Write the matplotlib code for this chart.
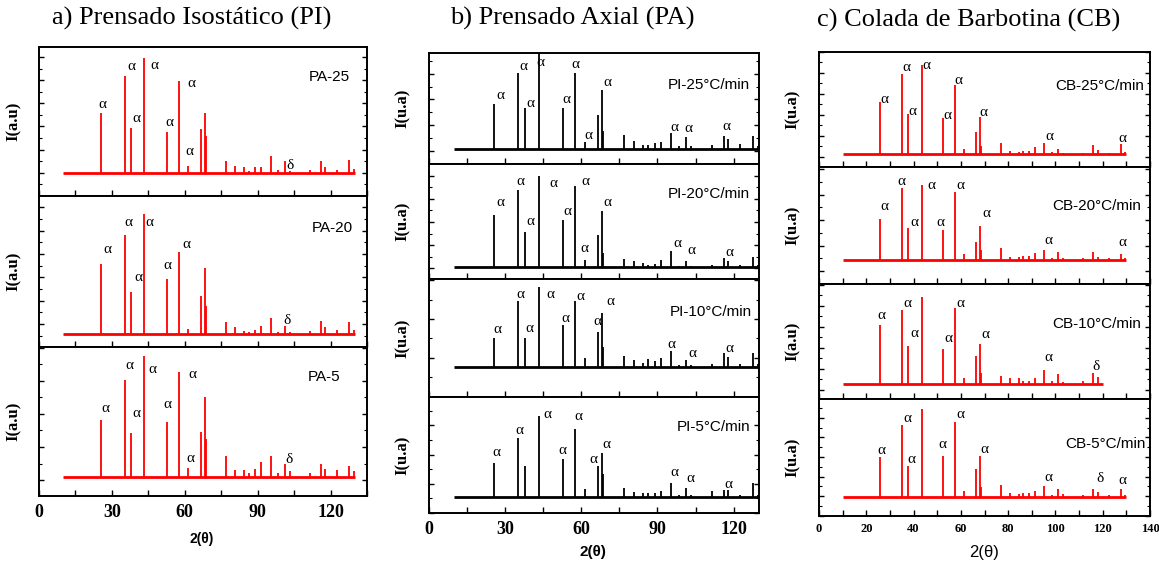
import numpy as np
import matplotlib.pyplot as plt
from matplotlib.ticker import MultipleLocator

plt.rcParams['font.family'] = ['Liberation Serif', 'DejaVu Serif']

# 2-theta positions of the reflections (shared by all patterns)
peak_pos = [25.6, 35.2, 37.8, 43.4, 52.6, 57.5, 61.3, 66.5, 68.2, 68.6, 76.9, 80.7, 84.4,
            86.4, 89.0, 91.2, 95.3, 98.4, 101.1, 103.4, 111.6, 116.1, 117.9, 122.6, 127.7, 129.5]

# peak heights above background (a.u.), same order as peak_pos
PA25 = [2570, 4170, 1930, 4970, 1760, 3960, 310, 1900, 2570, 1570, 510, 290, 260,
        90, 230, 260, 740, 110, 490, 60, 110, 530, 230, 140, 570, 170]
PA20 = [2960, 4210, 1770, 5100, 2330, 3490, 190, 1630, 2800, 1170, 510, 270, 130,
        70, 170, 330, 670, 70, 310, 70, 110, 540, 270, 140, 500, 140]
PA5 = [1750, 2950, 1350, 3670, 1680, 3190, 300, 1360, 2430, 1160, 640, 220, 220,
       120, 270, 460, 650, 120, 400, 190, 140, 400, 260, 220, 360, 200]

PI25 = [1740, 2935, 1600, 3730, 1610, 2960, 260, 1310, 2300, 680, 545, 300, 140,
        140, 220, 270, 610, 100, 480, 100, 140, 520, 380, 190, 520, 100]
PI20 = [2270, 3340, 1530, 3930, 2030, 3490, 310, 1410, 2410, 600, 370, 290, 210,
        90, 160, 310, 700, 80, 270, 80, 90, 400, 290, 90, 460, 100]
PI10 = [733, 1700, 750, 2050, 1086, 1690, 241, 897, 1390, 517, 293, 190, 100,
        215, 155, 241, 414, 60, 190, 60, 86, 362, 259, 86, 362, 80]
PI5 = [1170, 2011, 1057, 2773, 1295, 2330, 261, 1080, 1523, 795, 318, 170, 136,
       136, 136, 193, 500, 60, 318, 60, 193, 227, 227, 80, 500, 80]

CB25 = [2490, 3825, 1920, 4270, 1714, 3333, 270, 1080, 1794, 400, 556, 160, 100,
        160, 160, 365, 556, 100, 270, 80, 80, 430, 190, 80, 476, 100]
CB20 = [1577, 2820, 1256, 2923, 1154, 2641, 230, 705, 1320, 400, 462, 100, 100,
        141, 160, 256, 385, 80, 308, 80, 80, 320, 100, 80, 230, 80]
CB10 = [2790, 3516, 1823, 4129, 1661, 3645, 258, 1339, 1903, 500, 371, 274, 258,
        150, 150, 290, 661, 120, 484, 100, 120, 516, 322, 0, 0, 0]
CB5 = [2017, 3672, 1586, 4483, 2103, 3828, 293, 1431, 2069, 500, 603, 172, 121,
       172, 172, 293, 552, 80, 379, 121, 80, 397, 241, 80, 379, 100]

# phase labels: (2theta, height, symbol)
PA25_marks = [(25.9, 2960, 'α'), (38.2, 4600, 'α'), (39.9, 2360, 'α'), (47.5, 4640, 'α'),
              (53.7, 2170, 'α'), (62.6, 3860, 'α'), (61.9, 900, 'α'), (103.2, 310, 'δ')]
PA20_marks = [(28.2, 3600, 'α'), (36.6, 4760, 'α'), (45.4, 4760, 'α'), (40.7, 2400, 'α'),
              (52.9, 2900, 'α'), (60.6, 3810, 'α'), (101.9, 560, 'δ')]
PA5_marks = [(27.3, 2090, 'α'), (37.2, 3390, 'α'), (40.1, 1940, 'α'), (46.5, 3270, 'α'),
             (52.7, 2190, 'α'), (63.1, 3120, 'α'), (62.5, 570, 'α'), (103.0, 550, 'δ')]
PI25_marks = [(28.0, 2080, 'α'), (37.2, 3210, 'α'), (39.9, 1750, 'α'), (43.8, 3340, 'α'),
              (54.0, 1910, 'α'), (57.6, 3270, 'α'), (62.9, 520, 'α'), (70.1, 2600, 'α'),
              (96.6, 840, 'α'), (102.1, 800, 'α'), (117.1, 870, 'α')]
PI20_marks = [(28.3, 2790, 'α'), (35.9, 3710, 'α'), (39.9, 2000, 'α'), (48.8, 3630, 'α'),
              (54.4, 2430, 'α'), (61.6, 3710, 'α'), (61.2, 810, 'α'), (70.1, 2810, 'α'),
              (97.8, 1030, 'α'), (103.4, 710, 'α'), (118.2, 630, 'α')]
PI10_marks = [(27.1, 966, 'α'), (35.8, 1870, 'α'), (39.6, 983, 'α'), (48.0, 1870, 'α'),
              (53.9, 1241, 'α'), (59.6, 1810, 'α'), (66.5, 1172, 'α'), (71.5, 1681, 'α'),
              (95.5, 578, 'α'), (103.8, 345, 'α'), (118.2, 474, 'α')]
PI5_marks = [(26.7, 1534, 'α'), (35.7, 2295, 'α'), (46.5, 2841, 'α'), (52.4, 1591, 'α'),
             (58.7, 2750, 'α'), (64.9, 1273, 'α'), (69.9, 1818, 'α'), (96.6, 830, 'α'),
             (102.8, 625, 'α'), (117.9, 420, 'α')]
CB25_marks = [(27.5, 2619, 'α'), (36.8, 4127, 'α'), (39.6, 2063, 'α'), (45.3, 4254, 'α'),
              (54.3, 1873, 'α'), (58.9, 3540, 'α'), (69.5, 2016, 'α'), (97.3, 873, 'α'),
              (128.3, 746, 'α')]
CB20_marks = [(27.5, 2064, 'α'), (34.7, 3051, 'α'), (40.3, 1449, 'α'), (47.4, 2923, 'α'),
              (51.3, 1449, 'α'), (59.8, 2923, 'α'), (70.6, 1808, 'α'), (97.2, 769, 'α'),
              (128.4, 679, 'α')]
CB10_marks = [(26.2, 3274, 'α'), (37.5, 3839, 'α'), (40.3, 2419, 'α'), (54.8, 2145, 'α'),
              (59.6, 3839, 'α'), (70.2, 2355, 'α'), (97.2, 1258, 'α'), (117.2, 823, 'δ')]
CB5_marks = [(26.5, 2362, 'α'), (37.2, 4017, 'α'), (38.9, 1897, 'α'), (52.0, 2672, 'α'),
             (59.6, 4224, 'α'), (69.8, 2414, 'α'), (97.0, 1000, 'α'), (118.9, 914, 'δ'),
             (128.5, 810, 'α')]

W, H = 1159, 564
fig = plt.figure(figsize=(W / 100, H / 100), dpi=100)


def box(x0, x1, y0, y1):
    return [x0 / W, 1 - y1 / H, (x1 - x0) / W, (y1 - y0) / H]


def pattern(ax, heights, marks, name, name_xy, color, scan_end, ylim, ystep, yoff):
    pos = np.array(peak_pos)
    h = np.array(heights)
    keep = h > 0
    ax.hlines(0, 10, scan_end, color=color, lw=2.0)
    ax.vlines(pos[keep], 0, h[keep], color=color, lw=1.3)
    for x, y, s in marks:
        ax.text(x, y, s, ha='center', va='center', fontsize=11)
    ax.text(name_xy[0], name_xy[1], name, ha='center', va='center', fontsize=11,
            family='Liberation Sans')
    ax.set_ylim(*ylim)
    ax.yaxis.set_major_locator(MultipleLocator(ystep, offset=yoff))
    ax.yaxis.set_minor_locator(MultipleLocator(ystep / 2, offset=yoff))
    ax.tick_params(axis='y', which='both', direction='in', left=True, right=True,
                   labelleft=False)
    ax.tick_params(axis='y', which='major', length=3.5, width=1)
    ax.tick_params(axis='y', which='minor', length=2, width=0.8)
    ax.tick_params(axis='x', which='both', direction='in', top=False, length=4, width=1)
    for sp in ax.spines.values():
        sp.set_linewidth(1.4)


# ---- a) Prensado Isostatico ----
a_rows = [(47, 196), (196, 347), (347, 496)]
a_data = [PA25, PA20, PA5]
a_marks = [PA25_marks, PA20_marks, PA5_marks]
a_names = ['PA-25', 'PA-20', 'PA-5']
a_name_xy = [(119.3, 4140), (120.7, 4540), (117.5, 3040)]
a_ylim = [(-1000, 5430), (-570, 5890), (-560, 3940)]
a_yoff = [0, 410, -80]
for i in range(3):
    ax = fig.add_axes(box(39, 367, *a_rows[i]))
    pattern(ax, a_data[i], a_marks[i], a_names[i], a_name_xy[i], 'red', 130,
            a_ylim[i], 1000, a_yoff[i])
    ax.set_xlim(0, 135)
    ax.xaxis.set_major_locator(MultipleLocator(30))
    ax.xaxis.set_minor_locator(MultipleLocator(15))
    ax.set_ylabel('I(a.u)', fontweight='bold', fontsize=12)
    ax.yaxis.set_label_coords(-0.052, 0.5)
    if i < 2:
        ax.tick_params(axis='x', labelbottom=False)
    else:
        ax.tick_params(axis='x', which='major', pad=6, labelsize=13)
        for t in ax.get_xticklabels():
            t.set_fontweight('bold')

# ---- b) Prensado Axial ----
b_rows = [(53, 164), (164, 279), (279, 397), (397, 513)]
b_data = [PI25, PI20, PI10, PI5]
b_marks = [PI25_marks, PI20_marks, PI10_marks, PI5_marks]
b_names = ['PI-25°C/min', 'PI-20°C/min', 'PI-10°C/min', 'PI-5°C/min']
b_name_xy = [(110.3, 2490), (110.3, 3170), (111.2, 1422), (112.0, 2420)]
b_ylim = [(-584, 3727), (-500, 4457), (-776, 2267), (-545, 3432)]
b_yoff = [-78, -40, 233, 455]
for i in range(4):
    ax = fig.add_axes(box(429, 759, *b_rows[i]))
    pattern(ax, b_data[i], b_marks[i], b_names[i], b_name_xy[i], 'black', 130,
            b_ylim[i], 1000, b_yoff[i])
    ax.set_xlim(0, 130)
    ax.xaxis.set_major_locator(MultipleLocator(30))
    ax.xaxis.set_minor_locator(MultipleLocator(15))
    ax.set_ylabel('I(u.a)', fontweight='bold', fontsize=12)
    ax.yaxis.set_label_coords(-0.055, 0.5)
    if i < 3:
        ax.tick_params(axis='x', labelbottom=False)
    else:
        ax.tick_params(axis='x', which='major', pad=6, labelsize=13)
        for t in ax.get_xticklabels():
            t.set_fontweight('bold')

# ---- c) Colada de Barbotina ----
c_rows = [(52, 167), (167, 284), (284, 399), (399, 516)]
c_data = [CB25, CB20, CB10, CB5]
c_marks = [CB25_marks, CB20_marks, CB10_marks, CB5_marks]
c_names = ['CB-25°C/min', 'CB-20°C/min', 'CB-10°C/min', 'CB-5°C/min']
c_name_xy = [(118.6, 3286), (117.4, 2090), (117.4, 2871), (121.0, 2724)]
c_ylabels = ['I(u.a)', 'I(u.a)', 'I(a.u)', 'I(u.a)']
c_ylim = [(-603, 4889), (-949, 3628), (-726, 4774), (-983, 5000)]
c_yoff = [-111, 551, 726, 34]
c_end = [130, 130, 120, 130]
for i in range(4):
    ax = fig.add_axes(box(819, 1150, *c_rows[i]))
    pattern(ax, c_data[i], c_marks[i], c_names[i], c_name_xy[i], 'red', c_end[i],
            c_ylim[i], 1000, c_yoff[i])
    ax.set_xlim(0, 140)
    ax.xaxis.set_major_locator(MultipleLocator(20))
    ax.xaxis.set_minor_locator(MultipleLocator(10))
    ax.set_ylabel(c_ylabels[i], fontweight='bold', fontsize=12)
    ax.yaxis.set_label_coords(-0.055, 0.5)
    if i < 3:
        ax.tick_params(axis='x', labelbottom=False)
    else:
        ax.tick_params(axis='x', which='major', pad=5, labelsize=9)
        for t in ax.get_xticklabels():
            t.set_fontweight('bold')

# titles and x labels
fig.text(192 / W, 1 - 18 / H, 'a) Prensado Isostático (PI)', ha='center', va='center', fontsize=19)
fig.text(572 / W, 1 - 18 / H, 'b) Prensado Axial (PA)', ha='center', va='center', fontsize=19)
fig.text(969 / W, 1 - 20 / H, 'c) Colada de Barbotina (CB)', ha='center', va='center', fontsize=19)
fig.text(202 / W, 1 - 539 / H, '2(θ)', ha='center', va='center', fontsize=10,
         fontweight='bold', family='Liberation Sans')
fig.text(593 / W, 1 - 552 / H, '2(θ)', ha='center', va='center', fontsize=11,
         fontweight='bold', family='Liberation Sans')
fig.text(984 / W, 1 - 552 / H, '2(θ)', ha='center', va='center', fontsize=12,
         family='Liberation Sans')

fig.savefig('out.png', dpi=100)
